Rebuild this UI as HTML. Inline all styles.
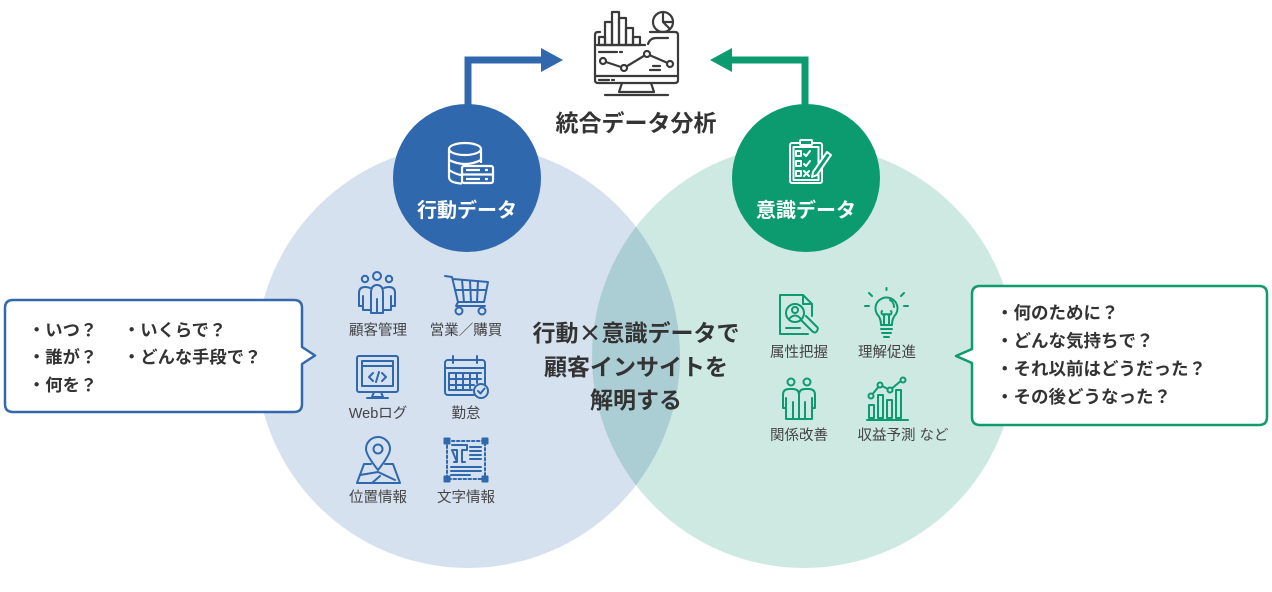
<!DOCTYPE html>
<html><head><meta charset="utf-8"><style>
html,body{margin:0;padding:0;background:#fff;}
svg{display:block;}
text{font-family:"Liberation Sans","Noto Sans CJK JP",sans-serif;}
</style></head><body>
<svg width="1272" height="592" viewBox="0 0 1272 592" xmlns="http://www.w3.org/2000/svg">
<defs>
<clipPath id="cb"><circle cx="468" cy="356" r="212"/></clipPath>
</defs>
<rect width="1272" height="592" fill="#fff"/>
<!-- big circles -->
<circle cx="468" cy="356" r="212" fill="#d6e1ef"/>
<circle cx="804" cy="356" r="212" fill="#cee9e1"/>
<circle cx="804" cy="356" r="212" fill="#abced5" clip-path="url(#cb)"/>

<!-- arrows -->
<path d="M468 110 V60 H542" fill="none" stroke="#3068ae" stroke-width="7"/>
<polygon points="541,48 563,60 541,72" fill="#3068ae"/>
<path d="M805 110 V60 H731" fill="none" stroke="#0b9b6f" stroke-width="7"/>
<polygon points="732,48 710,60 732,72" fill="#0b9b6f"/>

<!-- small circles -->
<circle cx="467" cy="178" r="74" fill="#3068ae"/>
<circle cx="806" cy="178" r="74" fill="#0b9b6f"/>

<!-- monitor icon -->
<g fill="none" stroke="#3a3a3a" stroke-width="2.2" stroke-linecap="round" stroke-linejoin="round">
<path d="M650 32 H675 Q678 32 678 35 V80 Q678 83 675 83 H598 Q595 83 595 80 V35 Q595 32 598 32 H600"/>
<line x1="595" y1="76" x2="678" y2="76"/>
<path d="M622 83 L619 92 H654 L651 83"/>
<line x1="605" y1="95" x2="668" y2="95"/>
<rect x="599" y="37" width="6" height="8"/>
<rect x="605" y="22" width="7" height="23"/>
<rect x="612" y="12" width="7" height="33"/>
<rect x="619" y="18" width="7" height="27"/>
<rect x="626" y="28" width="7" height="17"/>
<rect x="633" y="37" width="7" height="8"/>
<line x1="597" y1="45" x2="645" y2="45"/>
<line x1="599" y1="52" x2="617" y2="52"/>
<line x1="620" y1="52" x2="622" y2="52"/>
<circle cx="663" cy="22" r="10"/>
<path d="M663 12 V22 H673 M663 22 L670 29"/>
<path d="M648 44 Q650 38 656 38 H668"/>
<polyline points="603,61 624,68 647,54 670,64"/>
<circle cx="603" cy="61" r="3" fill="#fff"/>
<circle cx="624" cy="68" r="3" fill="#fff"/>
<circle cx="647" cy="54" r="3" fill="#fff"/>
<circle cx="670" cy="64" r="3" fill="#fff"/>
<line x1="650" y1="70" x2="660" y2="70"/>
<line x1="653" y1="66" x2="660" y2="66"/>
<line x1="599" y1="80" x2="609" y2="80"/>
<line x1="612" y1="80" x2="614" y2="80"/>
</g>
<text x="636" y="131" text-anchor="middle" font-size="23" font-weight="bold" fill="#333">統合データ分析</text>

<!-- database icon -->
<g fill="none" stroke="#fff" stroke-width="2.2" stroke-linejoin="round">
<ellipse cx="465" cy="149" rx="16" ry="6"/>
<path d="M449 149 V177 Q449 183 462 183.5"/>
<path d="M481 149 V163"/>
<path d="M449 160 Q465 168 481 160"/>
<path d="M449 170 Q455 174 461 175"/>
<rect x="462" y="166" width="31" height="17" rx="2" fill="#3068ae"/>
<line x1="462" y1="174.5" x2="493" y2="174.5"/>
<line x1="466" y1="170" x2="480" y2="170"/>
<line x1="466" y1="179" x2="480" y2="179"/>
<line x1="485" y1="170" x2="488" y2="170"/>
<line x1="485" y1="179" x2="488" y2="179"/>
</g>
<text x="467" y="217" text-anchor="middle" font-size="20" font-weight="bold" fill="#fff">行動データ</text>

<!-- clipboard icon -->
<g fill="none" stroke="#fff" stroke-width="2" stroke-linejoin="round" stroke-linecap="round">
<rect x="790" y="143" width="32" height="40" rx="2"/>
<rect x="793.5" y="147" width="25" height="33"/>
<rect x="800" y="140" width="12" height="5" rx="1" fill="#0b9b6f"/>
<rect x="796" y="151" width="5" height="5"/>
<rect x="796" y="161" width="5" height="5"/>
<rect x="796" y="171" width="5" height="5"/>
<path d="M804 154 L806 156 L810 151"/>
<path d="M804 164 L806 166 L810 161"/>
<path d="M804 171 L809 176 M809 171 L804 176"/>
<path d="M813 172 L827 152 L831 155 L817 175 L812 177 Z" fill="#0b9b6f"/>
</g>
<text x="806" y="217" text-anchor="middle" font-size="20" font-weight="bold" fill="#fff">意識データ</text>

<!-- left icons (blue) -->
<g fill="none" stroke="#3068ae" stroke-width="2" stroke-linejoin="round" stroke-linecap="round">
<circle cx="377" cy="276" r="4"/>
<circle cx="365" cy="279" r="3.2"/>
<circle cx="389" cy="279" r="3.2"/>
<path d="M371 313 V293 Q371 285 377 285 Q383 285 383 293 V313 Z M377 299 V313"/>
<path d="M370 288 Q368 287 365 287 Q359 287 359 293 V306 H363 V296 M363 306 V310 H370"/>
<path d="M384 288 Q386 287 389 287 Q395 287 395 293 V306 H391 V296 M391 306 V310 H384"/>
<path d="M445 276 L452 277 L458 302 H484 L488 282 L453 279"/>
<path d="M455 290 H486 M462 280 L464 302 M470 281 L471 302 M478 281 L477 302"/>
<path d="M458 302 L456 306 H485"/>
<circle cx="459" cy="311" r="3.5"/>
<circle cx="482" cy="311" r="3.5"/>
<rect x="357" y="356" width="41" height="36" rx="2"/>
<rect x="362" y="361" width="31" height="25"/>
<line x1="362" y1="366" x2="393" y2="366"/>
<path d="M373 373 L369 377 L373 381 M382 373 L386 377 L382 381 M379 372 L376 382"/>
<path d="M374 392 L372 397 H383 L381 392 M367 398 H388"/>
<rect x="445" y="360" width="40" height="35" rx="3"/>
<line x1="445" y1="368" x2="485" y2="368"/>
<path d="M453 356 V363 M477 356 V363"/>
<path d="M449 373 H481 M449 379 H481 M449 385 H474 M449 373 V390 M456 373 V390 M463 373 V390 M470 373 V388 M477 373 V383 M449 390 H472"/>
<circle cx="481" cy="391" r="7" fill="#d6e1ef"/>
<path d="M478 391 L480.5 393.5 L484.5 388.5"/>
<path d="M378 470 Q366 455 366 449 A12 12 0 0 1 390 449 Q390 455 378 470 Z"/>
<circle cx="378" cy="449" r="4.5"/>
<path d="M371 464 H364 L357 483 H400 L393 464 H385"/>
<path d="M360 475 L378 472 L395 480 M372 483 L380 476"/>
<rect x="447" y="441" width="38" height="38" stroke-dasharray="2.5 2.5"/>
<rect x="444.5" y="438.5" width="5" height="5" fill="#3068ae"/>
<rect x="482.5" y="438.5" width="5" height="5" fill="#3068ae"/>
<rect x="444.5" y="476.5" width="5" height="5" fill="#3068ae"/>
<rect x="482.5" y="476.5" width="5" height="5" fill="#3068ae"/>
<path d="M452 445 H467 V450 H462 V462 H465 M457 462 H454 M457 462 V450 H452 Z"/>
<path d="M470 447 H481 M470 451 H481 M470 455 H481 M470 459 H481 M451 467 H481 M451 471 H481 M451 475 H470"/>
</g>
<g font-size="14.5" fill="#444" text-anchor="middle">
<text x="378" y="335">顧客管理</text>
<text x="466" y="335">営業／購買</text>
<text x="378" y="418">Webログ</text>
<text x="466" y="418">勤怠</text>
<text x="378" y="502">位置情報</text>
<text x="466" y="502">文字情報</text>
</g>

<!-- right icons (green) -->
<g fill="none" stroke="#0b9b6f" stroke-width="2" stroke-linejoin="round" stroke-linecap="round">
<path d="M808 334 H780 V295 H803 L812 304 V316"/>
<path d="M803 295 V304 H812"/>
<circle cx="795" cy="313" r="9"/>
<circle cx="795" cy="310" r="3"/>
<path d="M789 319 Q795 312 801 319"/>
<path d="M801 320 L812 331 Q815 334 817 331 Q819 328 816 326 L806 316"/>
<path d="M786 328 H800"/>
<path d="M881 325 Q881 318 877 314 A11 11 0 1 1 896 314 Q892 318 892 325 Z"/>
<path d="M881 329 H892 M882 333 H891 M884 337 H889"/>
<path d="M884 325 V314 M889 325 V314 M882 311 A2 2 0 1 0 886 314 M891 311 A2 2 0 1 1 887 314"/>
<path d="M869 306 H865 M904 306 H908 M872 296 L869 293 M901 296 L904 293 M886.5 290 V288"/>
<path d="M890 300 Q894 302 894 307"/>
<circle cx="791" cy="382" r="3.5"/>
<circle cx="807" cy="382" r="3.5"/>
<path d="M799 419 V395 Q799 389 793 389 H789 Q783 389 783 395 V408 H786 V398 M786 408 V419 H799 M793 402 V419"/>
<path d="M799 419 V395 Q799 389 805 389 H809 Q815 389 815 395 V408 H812 V398 M812 408 V419 H799 M805 402 V419"/>
<path d="M867 420 H908"/>
<rect x="869" y="405" width="5" height="13"/>
<rect x="878" y="395" width="5" height="23"/>
<rect x="887" y="400" width="5" height="18"/>
<rect x="896" y="390" width="5" height="28"/>
<polyline points="871,396 880,385 890,390 902,380"/>
<circle cx="871" cy="396" r="2.5" fill="#cee9e1"/>
<circle cx="880" cy="385" r="2.5" fill="#cee9e1"/>
<circle cx="890" cy="390" r="2.5" fill="#cee9e1"/>
<circle cx="903" cy="380" r="2.5" fill="#cee9e1"/>
</g>
<g font-size="14.5" fill="#444" text-anchor="middle">
<text x="799" y="357">属性把握</text>
<text x="887" y="357">理解促進</text>
<text x="799" y="440">関係改善</text>
<text x="903" y="440">収益予測 など</text>
</g>

<!-- center text -->
<g font-size="23" font-weight="bold" fill="#333" text-anchor="middle">
<text x="636" y="341">行動<tspan font-family="Noto Sans CJK JP, sans-serif">×</tspan>意識データで</text>
<text x="636" y="375">顧客インサイトを</text>
<text x="636" y="408">解明する</text>
</g>

<!-- left bubble -->
<path d="M13 300 H294 Q302 300 302 308 V347 L315 355.5 L302 364 V404 Q302 412 294 412 H13 Q5 412 5 404 V308 Q5 300 13 300 Z" fill="#fff" stroke="#3468ad" stroke-width="2.5" stroke-linejoin="round"/>
<g font-size="17.3" font-weight="bold" fill="#333">
<text x="28" y="336">・いつ？</text>
<text x="28" y="363">・誰が？</text>
<text x="28" y="391">・何を？</text>
<text x="123" y="336">・いくらで？</text>
<text x="123" y="363">・どんな手段で？</text>
</g>

<!-- right bubble -->
<path d="M980 286 H1259 Q1267 286 1267 294 V417 Q1267 425 1259 425 H980 Q972 425 972 417 V363 L956 356 L972 349 V294 Q972 286 980 286 Z" fill="#fff" stroke="#0e9b6e" stroke-width="2.5" stroke-linejoin="round"/>
<g font-size="17.5" font-weight="bold" fill="#333">
<text x="996" y="319">・何のために？</text>
<text x="996" y="347">・どんな気持ちで？</text>
<text x="996" y="375">・それ以前はどうだった？</text>
<text x="996" y="403">・その後どうなった？</text>
</g>
</svg>
</body></html>
